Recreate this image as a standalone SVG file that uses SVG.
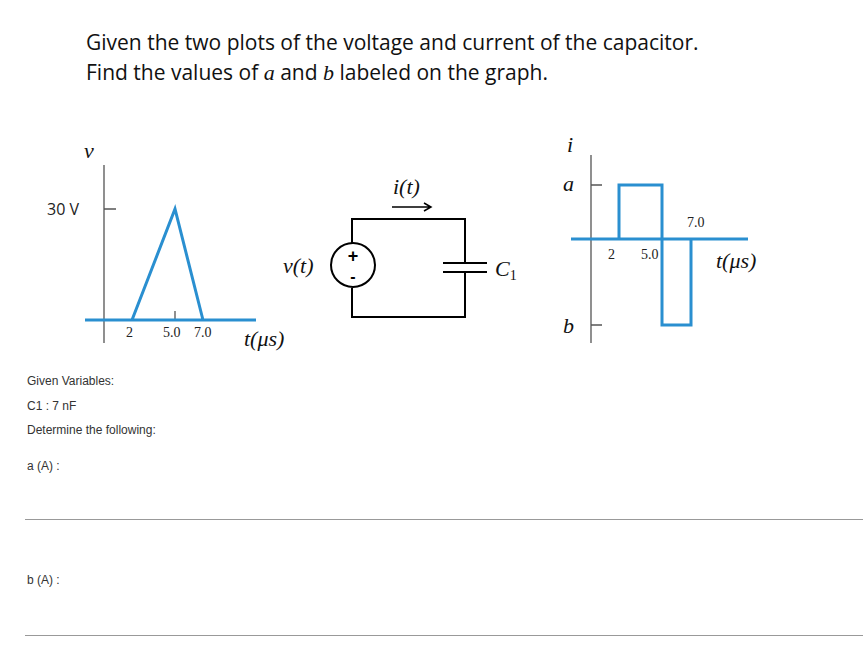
<svg xmlns="http://www.w3.org/2000/svg" width="863" height="664" viewBox="0 0 863 664">
<style>
.t{font-family:"Open Sans","Liberation Sans",sans-serif;font-size:21px;fill:#111}
.m{font-family:"Liberation Serif",serif;font-style:italic;font-size:22px;fill:#111}
.n{font-family:"Liberation Serif",serif;font-size:14px;fill:#222}
.s{font-family:"Liberation Sans",Arial,sans-serif;font-size:12px;fill:#333}
.ax{stroke:#555;stroke-width:1.3;fill:none}
.bl{stroke:#2a8fd0;stroke-width:3;fill:none}
.w{stroke:#000;stroke-width:2;fill:none}
</style>
<rect width="863" height="664" fill="#fff"/>
<g id="title">
<text class="t" x="86" y="50">Given the two plots of the voltage and current of the capacitor.</text>
<text class="t" x="86" y="80">Find the values of <tspan class="m">a</tspan> and <tspan class="m">b</tspan> labeled on the graph.</text>
</g>
<g id="vplot">
<path class="ax" d="M104 165V343M104 209H116M175 311V320"/>
<path class="bl" d="M85 320H256M132 320L175 209L203 320"/>
<text class="m" x="84" y="158">v</text>
<text x="47" y="215" style="font-family:'Open Sans','Liberation Sans',sans-serif;font-size:16px;fill:#222">30 V</text>
<text class="n" x="126" y="337">2</text>
<text class="n" x="163" y="337">5.0</text>
<text class="n" x="194" y="337">7.0</text>
<text class="m" x="244" y="346">t(μs)</text>
</g>
<g id="circuit">
<path class="w" d="M352 244V219H465V263M465 272V317H352V288M443 263H487M443 272H487"/>
<circle cx="353" cy="265" r="22" fill="#fff" stroke="#000" stroke-width="2"/>
<text x="353" y="262" text-anchor="middle" style="font-family:'Liberation Sans',sans-serif;font-size:18px;font-weight:bold">+</text>
<text x="353" y="282" text-anchor="middle" style="font-family:'Liberation Sans',sans-serif;font-size:16px;font-weight:bold">-</text>
<text class="m" x="283" y="273">v(t)</text>
<text class="m" x="495" y="276">C<tspan font-size="14" font-style="normal" dy="4">1</tspan></text>
<text class="m" x="393" y="194">i(t)</text>
<path d="M392 207H430M424 203L431 207L424 211" stroke="#000" stroke-width="1.5" fill="none"/>
</g>
<g id="iplot">
<path class="ax" d="M591 155V343M591 185H602M591 325H602"/>
<path class="bl" d="M571 239H748M619 239V185H662V325H691V239"/>
<text class="m" x="567" y="152">i</text>
<text class="m" x="563" y="191">a</text>
<text class="m" x="563" y="333">b</text>
<text class="n" x="608" y="259">2</text>
<text class="n" x="641" y="259">5.0</text>
<text class="n" x="687" y="227">7.0</text>
<text class="m" x="716" y="268">t(μs)</text>
</g>
<g id="form">
<text class="s" x="27" y="385">Given Variables:</text>
<text class="s" x="27" y="410">C1 : 7 nF</text>
<text class="s" x="27" y="434">Determine the following:</text>
<text class="s" x="27" y="470">a (A) :</text>
<path d="M25 519.5H863M25 635.5H863" stroke="#999" stroke-width="1"/>
<text class="s" x="27" y="584">b (A) :</text>
</g>
</svg>
